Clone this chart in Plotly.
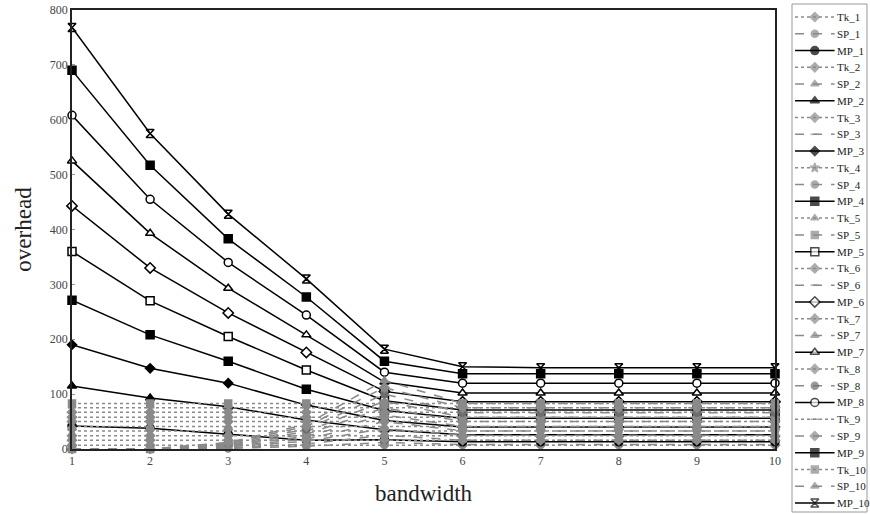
import plotly.graph_objects as go

bandwidth = [1, 2, 3, 4, 5, 6, 7, 8, 9, 10]

Tk_1 = [7, 7, 7, 7, 7, 7, 7, 7, 7, 7]
Tk_2 = [16, 16, 16, 16, 16, 16, 16, 16, 16, 16]
Tk_3 = [24, 24, 24, 24, 24, 24, 24, 24, 24, 24]
Tk_4 = [33, 33, 33, 33, 33, 33, 33, 33, 33, 33]
Tk_5 = [41, 41, 41, 41, 41, 41, 41, 41, 41, 41]
Tk_6 = [50, 50, 50, 50, 50, 50, 50, 50, 50, 50]
Tk_7 = [58, 58, 58, 58, 58, 58, 58, 58, 58, 58]
Tk_8 = [67, 67, 67, 67, 67, 67, 67, 67, 67, 67]
Tk_9 = [75, 75, 75, 75, 75, 75, 75, 75, 75, 75]
Tk_10 = [83, 83, 83, 83, 83, 83, 83, 83, 83, 83]

SP_1 = [0, 0, 1, 5, 12, 8, 8, 8, 8, 8]
SP_2 = [0, 0, 2, 9, 25, 16, 16, 16, 16, 16]
SP_3 = [0, 0, 4, 14, 37, 25, 25, 25, 25, 25]
SP_4 = [0, 0, 5, 18, 50, 33, 33, 33, 33, 33]
SP_5 = [0, 0, 6, 23, 62, 41, 41, 41, 41, 41]
SP_6 = [0, 0, 7, 27, 75, 50, 50, 50, 50, 50]
SP_7 = [0, 0, 8, 32, 87, 58, 58, 58, 58, 58]
SP_8 = [0, 0, 10, 36, 100, 66, 66, 66, 66, 66]
SP_9 = [0, 0, 11, 41, 112, 75, 75, 75, 75, 75]
SP_10 = [0, 0, 12, 45, 125, 83, 83, 83, 83, 83]

MP_1 = [42, 38, 27, 16, 17, 13, 13, 13, 13, 13]
MP_2 = [115, 93, 77, 53, 35, 26, 26, 26, 26, 26]
MP_3 = [190, 147, 120, 80, 52, 40, 40, 40, 40, 40]
MP_4 = [271, 208, 160, 109, 70, 56, 56, 56, 56, 56]
MP_5 = [360, 270, 205, 144, 88, 71, 71, 71, 71, 71]
MP_6 = [443, 330, 248, 176, 105, 86, 86, 86, 86, 86]
MP_7 = [525, 393, 293, 208, 122, 102, 102, 102, 102, 102]
MP_8 = [608, 455, 340, 244, 140, 120, 120, 120, 120, 120]
MP_9 = [690, 517, 383, 277, 160, 137, 137, 137, 137, 137]
MP_10 = [768, 575, 428, 310, 182, 150, 148, 148, 148, 148]

Tk = [Tk_1, Tk_2, Tk_3, Tk_4, Tk_5, Tk_6, Tk_7, Tk_8, Tk_9, Tk_10]
SP = [SP_1, SP_2, SP_3, SP_4, SP_5, SP_6, SP_7, SP_8, SP_9, SP_10]
MP = [MP_1, MP_2, MP_3, MP_4, MP_5, MP_6, MP_7, MP_8, MP_9, MP_10]

y_ticks = [0, 100, 200, 300, 400, 500, 600, 700, 800]

GRAY = "#8a8a8a"
SERIF = "Liberation Serif"

tk_sym = ["diamond", "diamond", "diamond", "star", "triangle-up",
          "diamond", "diamond", "diamond", "line-ew", "square"]
sp_sym = ["circle", "triangle-up", "line-ew", "circle", "square",
          "line-ew", "triangle-up", "circle", "diamond", "triangle-up"]
mp_sym = [("circle", "black", 8), ("triangle-up", "black", 8), ("diamond", "black", 7),
          ("square", "black", 8), ("square", "white", 8), ("diamond", "white", 8),
          ("triangle-up", "white", 8), ("circle", "white", 8), ("square", "black", 8),
          ("hourglass-open", "black", 8)]

entries = []
for k in range(10):
    entries.append(dict(name=f"Tk_{k+1}", y=Tk[k], dash="dot", color=GRAY, width=1.5,
                        symbol=tk_sym[k], fill=GRAY, lc=GRAY,
                        size=7 if tk_sym[k] != "line-ew" else 6))
    entries.append(dict(name=f"SP_{k+1}", y=SP[k], dash="dash", color=GRAY, width=1.5,
                        symbol=sp_sym[k], fill="#6e6e6e" if k == 7 else GRAY,
                        lc="#6e6e6e" if k == 7 else GRAY,
                        size=7 if sp_sym[k] != "line-ew" else 6))
    s, f, sz = mp_sym[k]
    entries.append(dict(name=f"MP_{k+1}", y=MP[k], dash="solid", color="black", width=1.5,
                        symbol=s, fill=f, lc="black", size=sz))

fig = go.Figure()
for e in entries:
    fig.add_trace(go.Scatter(
        x=bandwidth, y=e["y"], mode="lines+markers", name=e["name"],
        line=dict(color=e["color"], width=e["width"], dash=e["dash"]),
        marker=dict(symbol=e["symbol"], color=e["fill"], size=e["size"],
                    line=dict(color=e["lc"], width=1.5)),
        cliponaxis=False, showlegend=False, xaxis="x", yaxis="y"))

# hand-built legend on a hidden helper axis
annotations = []
for i, e in enumerate(entries):
    fig.add_trace(go.Scatter(
        x=[0.04, 0.30, 0.56], y=[i, i, i], mode="lines+markers",
        line=dict(color=e["color"], width=e["width"], dash=e["dash"]),
        marker=dict(symbol=e["symbol"], color=e["fill"], size=[0, e["size"], 0],
                    line=dict(color=e["lc"], width=[0, 1.5, 0])),
        cliponaxis=False, showlegend=False, hoverinfo="skip", xaxis="x2", yaxis="y2"))
    annotations.append(dict(x=0.57, y=i, xref="x2", yref="y2", text=e["name"],
                            showarrow=False, xanchor="left", yanchor="middle",
                            font=dict(family=SERIF, size=11, color="#222")))

W, H = 870, 515
ml, mr = 72, 2
pw = W - ml - mr

fig.update_layout(
    width=W, height=H,
    margin=dict(l=ml, r=mr, t=0, b=0),
    paper_bgcolor="white", plot_bgcolor="white",
    showlegend=False,
    annotations=annotations,
    xaxis=dict(domain=[0, (775 - ml) / pw], range=[1, 10], tickvals=bandwidth,
               showgrid=False, zeroline=False, showline=True, linecolor="#222",
               linewidth=1.5, mirror=True, ticks="", automargin=False,
               tickfont=dict(family=SERIF, size=12, color="#444"),
               title=dict(text="bandwidth", font=dict(family=SERIF, size=23, color="#222"),
                          standoff=18)),
    yaxis=dict(domain=[1 - 449 / H, 1 - 10 / H], range=[0, 800], tickvals=y_ticks,
               showgrid=False, zeroline=False, showline=True, linecolor="#222",
               linewidth=1.5, mirror=True, ticks="inside", ticklen=3, tickcolor="#999",
               automargin=False,
               tickfont=dict(family=SERIF, size=12, color="#444"),
               title=dict(text="overhead", font=dict(family=SERIF, size=23, color="#222"),
                          standoff=12)),
    xaxis2=dict(domain=[(792 - ml) / pw, 1], range=[0, 1], visible=False, anchor="y2",
                automargin=False),
    yaxis2=dict(domain=[0, 1], range=[(H - 17) / 16.76, -17 / 16.76], visible=False,
                anchor="x2", automargin=False),
    shapes=[dict(type="rect", xref="paper", yref="paper",
                 x0=(792 - ml) / pw, x1=(867 - ml) / pw, y0=1 - 512 / H, y1=1 - 4 / H,
                 line=dict(color="#999", width=1), fillcolor="rgba(0,0,0,0)")],
)

fig.write_html("out.html", config={"displayModeBar": False},
               post_script="document.body.style.margin='0';")
